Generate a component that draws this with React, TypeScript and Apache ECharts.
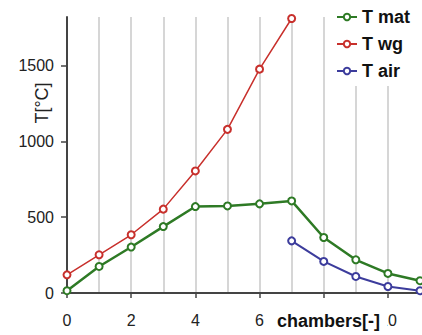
import React, { useEffect, useRef } from "react";
import * as echarts from "echarts";

const chambers = [0, 1, 2, 3, 4, 5, 6, 7, 8, 9, 10, 11];
const tMat = [15, 175, 303, 438, 570, 574, 588, 607, 366, 219, 129, 81];
const tWg = [120, 252, 384, 553, 805, 1079, 1476, 1810, null, null, null, null];
const tAir = [null, null, null, null, null, null, null, 344, 208, 109, 43, 15];
const xTicks = [0, 2, 4, 6, 8, 10];
const xLabels = [0, 2, 4, 6, 10];
const seriesNames = ["T mat", "T wg", "T air"];
const seriesColors = ["#2e7a25", "#c8302c", "#3c3c9c"];
const yAxisName = "T[°C]";
const xAxisName = "chambers[-]";

const FONT = '"Liberation Sans", Arial, sans-serif';

export default function App() {
  const ref = useRef<HTMLDivElement>(null);
  useEffect(() => {
    if (!ref.current) return;
    const chart = echarts.init(ref.current, undefined, { renderer: "svg" });
    const pairs = (arr: (number | null)[]) =>
      chambers.map((c, i) => [c, arr[i]]).filter((p) => p[1] !== null);
    const gridColors = chambers.map((_, i) =>
      i === 0 || i === chambers.length - 1 ? "rgba(0,0,0,0)" : "#c9c9c9"
    );
    const lineWidths = [2.5, 1.5, 2];
    const datasets = [tMat, tWg, tAir];
    chart.setOption({
      animation: false,
      textStyle: { fontFamily: FONT },
      grid: { left: 67, right: 2, top: 17, bottom: 42, containLabel: false },
      legend: {
        orient: "vertical",
        left: 331,
        top: 2,
        padding: [6, 10, 6, 5],
        backgroundColor: "#fff",
        itemWidth: 20,
        itemHeight: 8,
        itemGap: 9,
        textStyle: { fontFamily: FONT, fontWeight: "bold", fontSize: 18, color: "#111" },
        data: seriesNames,
      },
      xAxis: [
        {
          type: "value",
          min: 0,
          max: 11,
          interval: 2,
          axisLine: { show: true, onZero: false, lineStyle: { color: "#444", width: 2 } },
          axisTick: { show: true, length: 5, customValues: xTicks, lineStyle: { color: "#444", width: 1.5 } },
          axisLabel: {
            fontSize: 16,
            color: "#222",
            margin: 19,
            fontFamily: FONT,
            customValues: xLabels,
            formatter: (v: number) => String(v),
          },
          splitLine: { show: false },
        },
        {
          type: "value",
          min: 0,
          max: 11,
          interval: 1,
          position: "bottom",
          axisLine: { show: false },
          axisTick: { show: false },
          axisLabel: { show: false },
          splitLine: { show: true, lineStyle: { color: gridColors, width: 1.5 } },
        },
      ],
      yAxis: {
        type: "value",
        min: 0,
        max: 1820,
        interval: 500,
        axisLine: { show: true, lineStyle: { color: "#444", width: 2 } },
        axisTick: { show: true, length: 6, lineStyle: { color: "#444", width: 1.5 } },
        axisLabel: {
          fontSize: 16,
          color: "#222",
          margin: 13,
          fontFamily: FONT,
          showMaxLabel: false,
          formatter: (v: number) => String(v),
        },
        splitLine: { show: false },
      },
      graphic: [
        {
          type: "text",
          x: 42,
          y: 103,
          rotation: Math.PI / 2,
          style: {
            text: yAxisName,
            font: '18px "Liberation Sans", Arial, sans-serif',
            fill: "#222",
            align: "center",
            verticalAlign: "middle",
          },
        },
        {
          type: "text",
          x: 276,
          y: 321,
          z: 200,
          style: {
            text: xAxisName,
            font: 'bold 18px "Liberation Sans", Arial, sans-serif',
            fill: "#111",
            align: "left",
            verticalAlign: "middle",
            backgroundColor: "#fff",
            padding: [2, 7, 2, 1],
          },
        },
      ],
      series: seriesNames.map((name, i) => ({
        name,
        type: "line",
        xAxisIndex: 0,
        data: pairs(datasets[i]),
        symbol: "emptyCircle",
        symbolSize: 7,
        showSymbol: true,
        color: seriesColors[i],
        lineStyle: { color: seriesColors[i], width: lineWidths[i] },
        itemStyle: { color: seriesColors[i], borderColor: seriesColors[i], borderWidth: 1.5 },
        z: 3 + i,
      })),
    });
    return () => chart.dispose();
  }, []);
  return <div ref={ref} style={{ width: 422, height: 335, position: "absolute", left: 0, top: 0, background: "#fff" }} />;
}
